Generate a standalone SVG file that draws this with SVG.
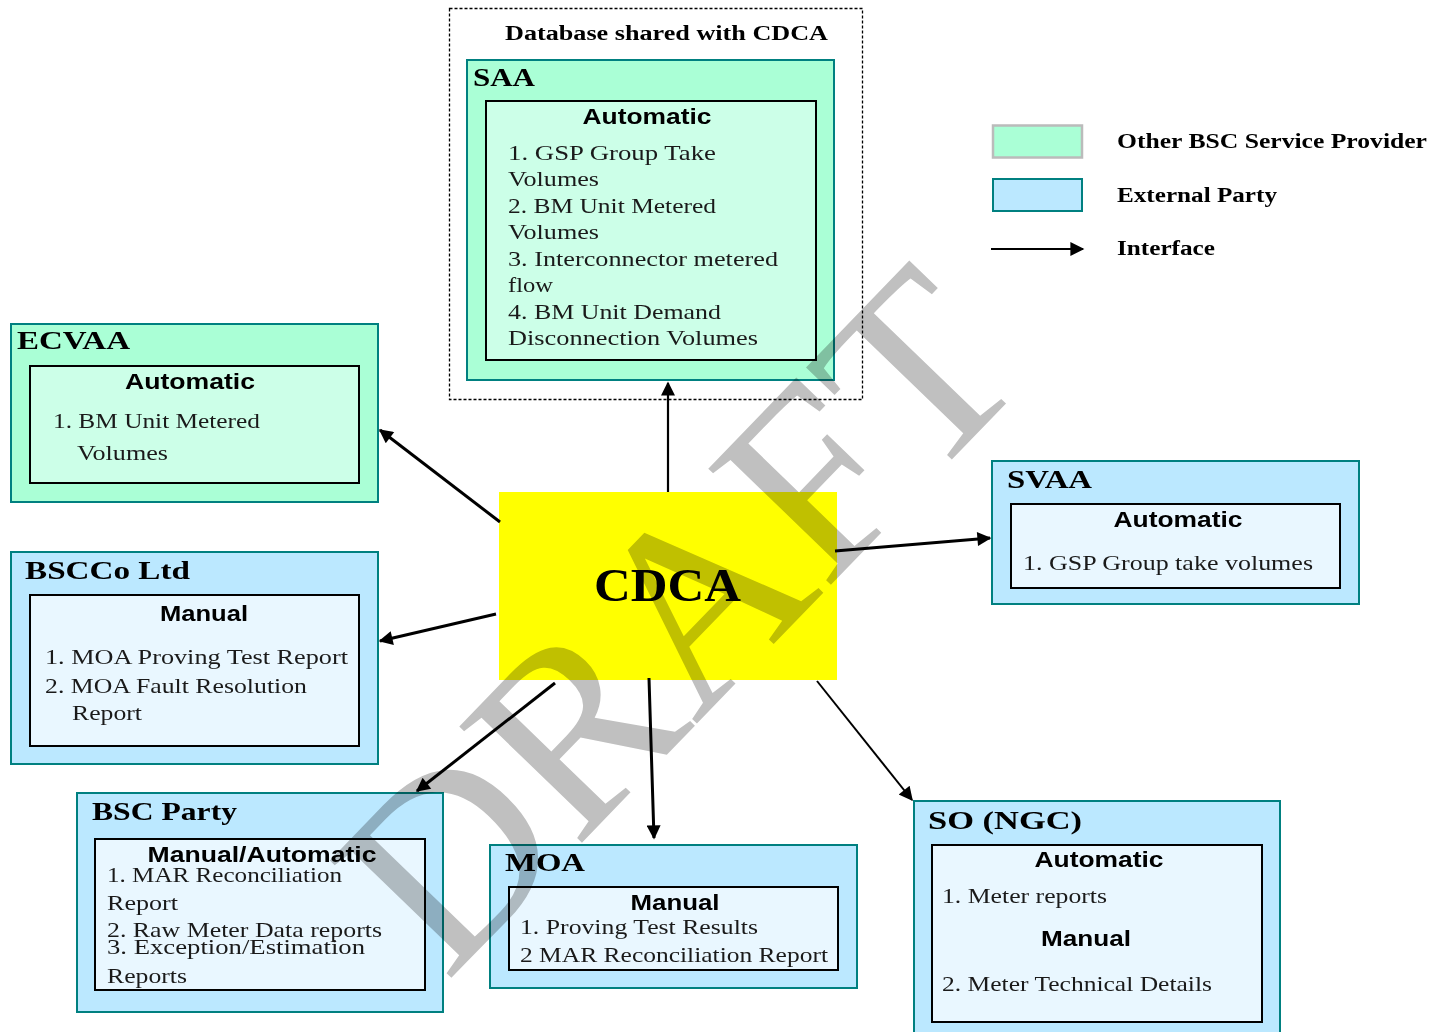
<svg xmlns="http://www.w3.org/2000/svg" width="1436" height="1032" viewBox="0 0 1436 1032">
<defs>
<marker id="ah2" viewBox="0 0 10 10" refX="9" refY="5" markerWidth="18" markerHeight="14" markerUnits="userSpaceOnUse" orient="auto">
<path d="M0,0 L10,5 L0,10 Z" fill="#000"/>
</marker>
<style>
.green{fill:#aaffd6;stroke:#008080;stroke-width:2}
.blue{fill:#bbe8ff;stroke:#008080;stroke-width:2}
.ig{fill:#ccffe8;stroke:#000;stroke-width:2}
.ib{fill:#e9f7ff;stroke:#000;stroke-width:2}
.title{font-family:"Liberation Serif",serif;font-weight:bold;font-size:26px;fill:#000}
.head{font-family:"Liberation Sans",Arial,sans-serif;font-weight:bold;font-size:22px;fill:#000;text-anchor:middle}
.body{font-family:"Liberation Serif",serif;font-size:22px;fill:#1a1a1a}
.leg{font-family:"Liberation Serif",serif;font-weight:bold;font-size:20px;fill:#000}
.conn{stroke:#000;stroke-width:3;fill:none}
</style>
</defs>
<rect width="1436" height="1032" fill="#fff"/>

<g id="shared-db">
<rect x="449.5" y="8.5" width="413" height="391" fill="none" stroke="#000" stroke-width="1.3" stroke-dasharray="3,2"/>
<text x="505" y="40" class="leg" font-size="21" textLength="323" lengthAdjust="spacingAndGlyphs">Database shared with CDCA</text>
</g>

<g id="saa">
<rect x="467" y="60" width="367" height="320" class="green"/>
<text x="473" y="86" class="title" textLength="62" lengthAdjust="spacingAndGlyphs">SAA</text>
<rect x="486" y="101" width="330" height="259" class="ig"/>
<text x="647" y="124" class="head" textLength="129" lengthAdjust="spacingAndGlyphs">Automatic</text>
<text class="body" x="508" y="160" textLength="208" lengthAdjust="spacingAndGlyphs">1. GSP Group Take</text>
<text class="body" x="508" y="186" textLength="91" lengthAdjust="spacingAndGlyphs">Volumes</text>
<text class="body" x="508" y="213" textLength="208" lengthAdjust="spacingAndGlyphs">2. BM Unit Metered</text>
<text class="body" x="508" y="239" textLength="91" lengthAdjust="spacingAndGlyphs">Volumes</text>
<text class="body" x="508" y="266" textLength="270" lengthAdjust="spacingAndGlyphs">3. Interconnector metered</text>
<text class="body" x="508" y="292" textLength="45" lengthAdjust="spacingAndGlyphs">flow</text>
<text class="body" x="508" y="319" textLength="213" lengthAdjust="spacingAndGlyphs">4. BM Unit Demand</text>
<text class="body" x="508" y="345" textLength="250" lengthAdjust="spacingAndGlyphs">Disconnection Volumes</text>
</g>

<g id="ecvaa">
<rect x="11" y="324" width="367" height="178" class="green"/>
<text x="17" y="349" class="title" textLength="113" lengthAdjust="spacingAndGlyphs">ECVAA</text>
<rect x="30" y="366" width="329" height="117" class="ig"/>
<text x="190" y="389" class="head" textLength="130" lengthAdjust="spacingAndGlyphs">Automatic</text>
<text class="body" x="53" y="428" textLength="207" lengthAdjust="spacingAndGlyphs">1. BM Unit Metered</text>
<text class="body" x="77" y="460" textLength="91" lengthAdjust="spacingAndGlyphs">Volumes</text>
</g>

<g id="bscco">
<rect x="11" y="552" width="367" height="212" class="blue"/>
<text x="25" y="579" class="title" textLength="165" lengthAdjust="spacingAndGlyphs">BSCCo Ltd</text>
<rect x="30" y="595" width="329" height="151" class="ib"/>
<text x="204" y="621" class="head" textLength="88" lengthAdjust="spacingAndGlyphs">Manual</text>
<text class="body" x="45" y="664" textLength="303" lengthAdjust="spacingAndGlyphs">1. MOA Proving Test Report</text>
<text class="body" x="45" y="693" textLength="262" lengthAdjust="spacingAndGlyphs">2. MOA Fault Resolution</text>
<text class="body" x="72" y="720" textLength="70" lengthAdjust="spacingAndGlyphs">Report</text>
</g>

<g id="bsc-party">
<rect x="77" y="793" width="366" height="219" class="blue"/>
<text x="92" y="820" class="title" textLength="145" lengthAdjust="spacingAndGlyphs">BSC Party</text>
<rect x="95" y="839" width="330" height="151" class="ib"/>
<text x="262" y="862" class="head" textLength="229" lengthAdjust="spacingAndGlyphs">Manual/Automatic</text>
<text class="body" x="107" y="882" textLength="235" lengthAdjust="spacingAndGlyphs">1. MAR Reconciliation</text>
<text class="body" x="107" y="910" textLength="71" lengthAdjust="spacingAndGlyphs">Report</text>
<text class="body" x="107" y="937" textLength="275" lengthAdjust="spacingAndGlyphs">2. Raw Meter Data reports</text>
<text class="body" x="107" y="954" textLength="258" lengthAdjust="spacingAndGlyphs">3. Exception/Estimation</text>
<text class="body" x="107" y="983" textLength="80" lengthAdjust="spacingAndGlyphs">Reports</text>
</g>

<g id="moa">
<rect x="490" y="845" width="367" height="143" class="blue"/>
<text x="505" y="871" class="title" textLength="80" lengthAdjust="spacingAndGlyphs">MOA</text>
<rect x="509" y="887" width="329" height="83" class="ib"/>
<text x="675" y="910" class="head" textLength="89" lengthAdjust="spacingAndGlyphs">Manual</text>
<text class="body" x="520" y="934" textLength="238" lengthAdjust="spacingAndGlyphs">1. Proving Test Results</text>
<text class="body" x="520" y="962" textLength="308" lengthAdjust="spacingAndGlyphs">2 MAR Reconciliation Report</text>
</g>

<g id="so-ngc">
<rect x="914" y="801" width="366" height="240" class="blue"/>
<text x="928" y="829" class="title" textLength="154" lengthAdjust="spacingAndGlyphs">SO (NGC)</text>
<rect x="932" y="845" width="330" height="177" class="ib"/>
<text x="1099" y="867" class="head" textLength="129" lengthAdjust="spacingAndGlyphs">Automatic</text>
<text class="body" x="942" y="903" textLength="165" lengthAdjust="spacingAndGlyphs">1. Meter reports</text>
<text x="1086" y="946" class="head" textLength="90" lengthAdjust="spacingAndGlyphs">Manual</text>
<text class="body" x="942" y="991" textLength="270" lengthAdjust="spacingAndGlyphs">2. Meter Technical Details</text>
</g>

<g id="svaa">
<rect x="992" y="461" width="367" height="143" class="blue"/>
<text x="1007" y="488" class="title" textLength="85" lengthAdjust="spacingAndGlyphs">SVAA</text>
<rect x="1011" y="504" width="329" height="84" class="ib"/>
<text x="1178" y="527" class="head" textLength="129" lengthAdjust="spacingAndGlyphs">Automatic</text>
<text class="body" x="1023" y="570" textLength="290" lengthAdjust="spacingAndGlyphs">1. GSP Group take volumes</text>
</g>

<g id="cdca">
<rect x="499" y="492" width="338" height="188" fill="#ffff00"/>
<text x="594" y="601" font-family="'Liberation Serif',serif" font-weight="bold" font-size="46" textLength="147" lengthAdjust="spacingAndGlyphs">CDCA</text>
</g>

<g id="legend">
<rect x="993" y="125.5" width="89" height="32" fill="#aaffd6" stroke="#bbbbbb" stroke-width="2.5"/>
<text x="1117" y="148" class="leg" textLength="310" lengthAdjust="spacingAndGlyphs">Other BSC Service Provider</text>
<rect x="993" y="179" width="89" height="32" fill="#bbe8ff" stroke="#008080" stroke-width="2"/>
<text x="1117" y="202" class="leg" textLength="160" lengthAdjust="spacingAndGlyphs">External Party</text>
<line x1="991" y1="249" x2="1083" y2="249" stroke="#000" stroke-width="2" marker-end="url(#ah2)"/>
<text x="1117" y="255" class="leg" textLength="98" lengthAdjust="spacingAndGlyphs">Interface</text>
</g>

<g id="connectors">
<line x1="668" y1="492" x2="668" y2="383" stroke="#000" stroke-width="2.2" marker-end="url(#ah2)"/>
<line x1="500" y1="522" x2="380" y2="430" class="conn" marker-end="url(#ah2)"/>
<line x1="496" y1="614" x2="380" y2="641" class="conn" marker-end="url(#ah2)"/>
<line x1="555" y1="683" x2="417" y2="791" class="conn" marker-end="url(#ah2)"/>
<line x1="649" y1="678" x2="654" y2="838" class="conn" marker-end="url(#ah2)"/>
<line x1="817" y1="681" x2="912" y2="800" stroke="#000" stroke-width="2" marker-end="url(#ah2)"/>
<line x1="835" y1="551" x2="990" y2="538" class="conn" marker-end="url(#ah2)"/>
</g>

<text x="740" y="679" transform="rotate(-46 740 679)" text-anchor="middle" font-family="'Liberation Serif',serif" font-size="258" fill="#c0c0c0" style="mix-blend-mode:multiply">DRAFT</text>
</svg>
